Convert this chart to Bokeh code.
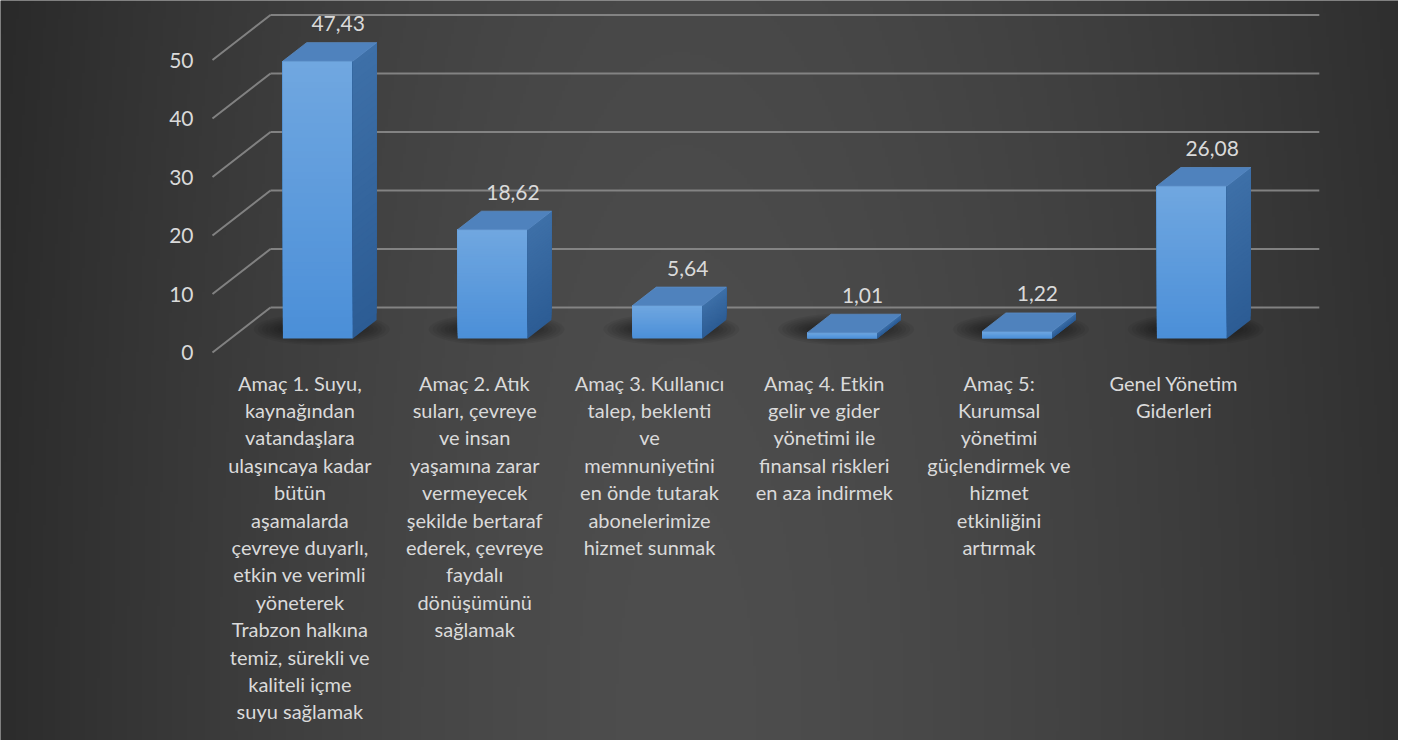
import numpy as np
from bokeh.plotting import figure
from bokeh.models import Range1d
from bokeh.core.properties import value
from bokeh.embed import file_html
from bokeh.resources import INLINE

# ---------------- data ----------------
categories = [
    "Amaç 1. Suyu,\nkaynağından\nvatandaşlara\nulaşıncaya kadar\nbütün\naşamalarda\nçevreye duyarlı,\netkin ve verimli\nyöneterek\nTrabzon halkına\ntemiz, sürekli ve\nkaliteli içme\nsuyu sağlamak",
    "Amaç 2. Atık\nsuları, çevreye\nve insan\nyaşamına zarar\nvermeyecek\nşekilde bertaraf\nederek, çevreye\nfaydalı\ndönüşümünü\nsağlamak",
    "Amaç 3. Kullanıcı\ntalep, beklenti\nve\nmemnuniyetini\nen önde tutarak\nabonelerimize\nhizmet sunmak",
    "Amaç 4. Etkin\ngelir ve gider\nyönetimi ile\nfinansal riskleri\nen aza indirmek",
    "Amaç 5:\nKurumsal\nyönetimi\ngüçlendirmek ve\nhizmet\netkinliğini\nartırmak",
    "Genel Yönetim\nGiderleri",
]
values = [47.43, 18.62, 5.64, 1.01, 1.22, 26.08]
y_ticks = [0, 10, 20, 30, 40, 50]
tick_labels = ["0", "10", "20", "30", "40", "50"]

# ---------------- layout / projection ----------------
W, H = 1398, 740
CAT_PX = 174.8          # pixels per category on the front plane
UNIT_PX = 5.85          # pixels per value unit
OX = 212                # figure px of category origin
OY = 352                # figure px (from top) of value 0 on the front plane
x_start, x_end = -OX / CAT_PX, (W - OX) / CAT_PX
y_start, y_end = -(H - OY) / UNIT_PX, OY / UNIT_PX
DX, DY = 58 / CAT_PX, 45 / UNIT_PX   # full floor depth vector
D0, D1 = 0.31, 0.72                  # bar depth span
BAR_W = 0.4
N = len(values)

FONT = value("Lato")
TXT = "#dadada"
GRID = "#8e8e8e"

p = figure(width=W, height=H, output_backend="svg", toolbar_location=None,
           x_range=Range1d(x_start, x_end), y_range=Range1d(y_start, y_end),
           x_axis_location=None, y_axis_location=None, min_border=0,
           outline_line_color=None, background_fill_color="#3c3c3c",
           border_fill_color="#3c3c3c")
p.grid.visible = False

# ---------------- background gradient ----------------
step = 3
fx = np.arange(0, W, step) + 1.0
fy = np.arange(0, H, step) + 1.0
PX, PY = np.meshgrid(fx, fy[::-1])
rx = np.where(PX < 680, 680.0, 800.0)
t = np.sqrt(((PX - 680) / rx) ** 2 + ((PY - 720) / 2400.0) ** 2)
g = np.clip(78 - 34 * t ** 1.5, 36, 78).astype(np.uint8)
img = np.empty(g.shape, dtype=np.uint32)
view = img.view(dtype=np.uint8).reshape(g.shape + (4,))
view[..., 0] = g
view[..., 1] = g
view[..., 2] = g
view[..., 3] = 255
p.image_rgba(image=[img], x=x_start, y=y_start, dw=x_end - x_start, dh=y_end - y_start)

# ---------------- walls / gridlines ----------------
for v in y_ticks:
    p.line([DX, N + DX], [v + DY, v + DY], line_color=GRID, line_width=2, line_alpha=0.85)
    p.line([0, DX], [v, v + DY], line_color=GRID, line_width=2, line_alpha=0.85)

p.text(x=[-19 / CAT_PX] * len(y_ticks), y=y_ticks, text=tick_labels,
       text_font=FONT, text_font_size="21px", text_color=TXT,
       text_align="right", text_baseline="middle")

# ---------------- shadows ----------------
for i in range(N):
    cx = i + 0.5 + ((D0 + D1) / 2) * DX - 8 / CAT_PX
    cy = ((D0 + D1) / 2) * DY
    for k in range(8):
        p.ellipse(x=[cx], y=[cy], width=[BAR_W * CAT_PX + 66 - 8 * k], height=[32 - 3 * k],
                  width_units="screen", height_units="screen",
                  fill_color="black", fill_alpha=0.06, line_color=None)

# ---------------- bars ----------------
S = 40
front_top = np.array([112, 167, 224])
front_bot = np.array([75, 143, 216])
side_top = np.array([62, 112, 168])
side_bot = np.array([44, 92, 148])


def hexc(c):
    c = np.clip(np.round(c), 0, 255).astype(int)
    return "#%02x%02x%02x" % tuple(c)


for i, v in enumerate(values):
    xl = i + 0.5 - BAR_W / 2
    xr = i + 0.5 + BAR_W / 2
    # front & side faces: vertical gradient, each band covers to the top (no seams)
    lefts, rights, bots, tops, cols = [], [], [], [], []
    sx, sy, scol = [], [], []
    for k in range(S):
        f0 = k / S
        fm = (k + 0.5) / S
        y0 = v * f0
        lefts.append(xl + D0 * DX)
        rights.append(xr + D0 * DX)
        bots.append(y0 + D0 * DY)
        tops.append(v + D0 * DY)
        cols.append(hexc(front_bot + (front_top - front_bot) * fm))
        sx.append([xr + D0 * DX, xr + D1 * DX, xr + D1 * DX, xr + D0 * DX])
        sy.append([y0 + D0 * DY, y0 + D1 * DY, v + D1 * DY, v + D0 * DY])
        scol.append(hexc(side_bot + (side_top - side_bot) * fm))
    p.quad(left=lefts, right=rights, bottom=bots, top=tops,
           fill_color=cols, line_color=None)
    p.patches(xs=sx, ys=sy, fill_color=scol, line_color=None)
    # top face
    p.patch([xl + D0 * DX, xr + D0 * DX, xr + D1 * DX, xl + D1 * DX],
            [v + D0 * DY, v + D0 * DY, v + D1 * DY, v + D1 * DY],
            fill_color="#4f82bd", line_color="#5a8cc4", line_width=0.8)

# ---------------- value labels ----------------
p.text(x=[i + 0.5 + D1 * DX - 0.02 for i in range(N)],
       y=[v + D1 * DY + 19 / UNIT_PX for v in values],
       text=[("%.2f" % v).replace(".", ",") for v in values],
       text_font=FONT, text_font_size="21px", text_color=TXT,
       text_align="center", text_baseline="middle")

# ---------------- category labels ----------------
lx, ly, lt = [], [], []
for i, lab in enumerate(categories):
    for j, line in enumerate(lab.split("\n")):
        lx.append(i + 0.5)
        ly.append(-30 / UNIT_PX - j * 27.4 / UNIT_PX)
        lt.append(line)
p.text(x=lx, y=ly, text=lt, text_font=FONT, text_font_size="20px",
       text_color=TXT, text_align="center", text_baseline="middle")

open("out.html", "w").write(file_html(p, INLINE))
